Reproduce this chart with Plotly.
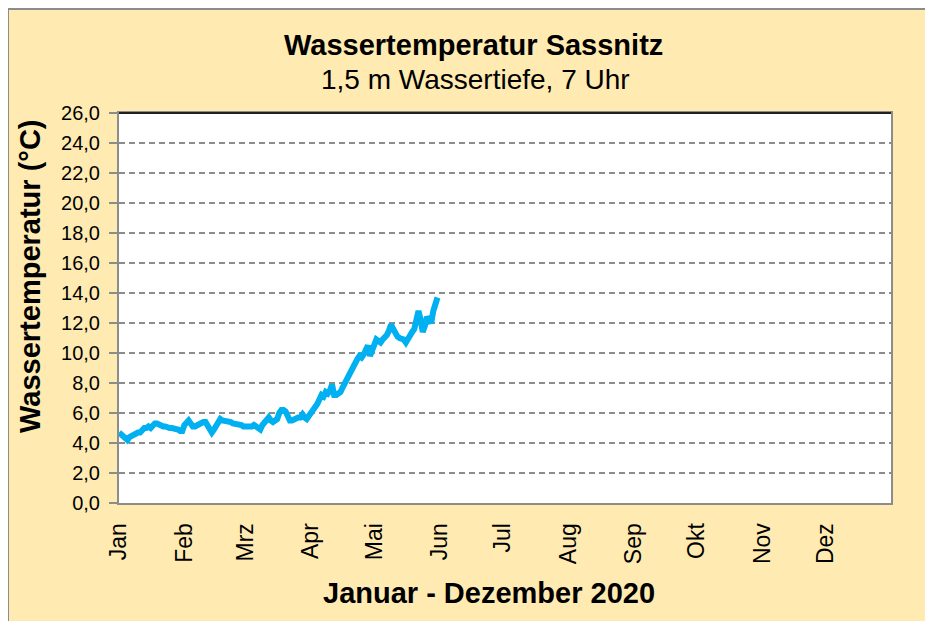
import pandas as pd
import plotly.graph_objects as go

start_date = "2020-01-01"
temps = [
    4.7, 4.6, 4.5, 4.4, 4.2, 4.4, 4.5, 4.6, 4.6, 4.7,
    4.7, 4.9, 5.0, 5.0, 5.1, 5.0, 5.2, 5.3, 5.3, 5.2,
    5.1, 5.1, 5.1, 5.0, 5.0, 5.0, 5.0, 5.0, 4.9, 4.8,
    4.8, 5.2, 5.4, 5.5, 5.3, 5.1, 5.1, 5.2, 5.2, 5.3,
    5.4, 5.4, 5.1, 4.8, 4.7, 4.9, 5.2, 5.5, 5.6, 5.5,
    5.5, 5.4, 5.4, 5.4, 5.3, 5.3, 5.3, 5.3, 5.2, 5.1,
    5.1, 5.1, 5.0, 5.1, 5.2, 5.1, 5.0, 4.9, 5.2, 5.4,
    5.5, 5.7, 5.5, 5.4, 5.5, 5.6, 6.0, 6.2, 6.2, 6.1,
    5.8, 5.5, 5.5, 5.6, 5.6, 5.7, 5.7, 5.9, 5.7, 5.6,
    5.8, 6.0, 6.1, 6.3, 6.6, 6.9, 7.2, 7.1, 7.4, 7.3,
    7.5, 7.9, 7.2, 7.2, 7.3, 7.4, 7.7, 8.0, 8.2, 8.5,
    8.7, 9.0, 9.3, 9.6, 9.8, 9.7, 9.9, 10.3, 10.5, 9.8,
    10.2, 10.5, 10.9, 10.8, 10.7, 10.9, 11.0, 11.2, 11.5, 11.9,
    11.6, 11.2, 11.1, 11.0, 11.0, 10.9, 10.7, 11.0, 11.3, 11.4,
    11.6, 12.4, 12.8, 12.2, 11.4, 11.8, 12.4, 12.2, 12.0, 12.8,
    13.5, 13.7,
]
month_starts = ["2020-01-01", "2020-02-01", "2020-03-01", "2020-04-01",
                "2020-05-01", "2020-06-01", "2020-07-01", "2020-08-01",
                "2020-09-01", "2020-10-01", "2020-11-01", "2020-12-01"]
month_labels = ["Jan", "Feb", "Mrz", "Apr", "Mai", "Jun",
                "Jul", "Aug", "Sep", "Okt", "Nov", "Dez"]
y_ticks = [0, 2, 4, 6, 8, 10, 12, 14, 16, 18, 20, 22, 24, 26]

title_text = "Wassertemperatur Sassnitz"
subtitle_text = "1,5 m Wassertiefe, 7 Uhr"
x_title = "Januar - Dezember 2020"
y_title = "Wassertemperatur (°C)"

dates = pd.date_range(start_date, periods=len(temps), freq="D")

FONT = "Liberation Sans, Arial, sans-serif"
BG = "#FFEBB2"

# figure is placed 8px from the page corner by the browser's body margin
W, H = 925, 613
L, R, T, B = 111, 42, 105, 118
PW, PH = W - L - R, H - T - B


def px_x(fx):
    return (fx - L) / PW


def px_y(fy):
    return (H - B - fy) / PH


fig = go.Figure()
fig.add_trace(go.Scatter(
    x=dates, y=temps, mode="lines",
    line=dict(color="#00B0F0", width=6, shape="linear"),
    hoverinfo="x+y", showlegend=False,
))

fig.update_layout(
    width=W, height=H,
    margin=dict(l=L, r=R, t=T, b=B),
    paper_bgcolor=BG,
    plot_bgcolor="white",
    separators=",.",
    font=dict(family=FONT, color="black", size=17),
    showlegend=False,
    shapes=[
        dict(type="rect", xref="paper", yref="paper",
             x0=px_x(0), x1=px_x(W + 20), y0=px_y(H + 20), y1=px_y(1),
             fillcolor="rgba(0,0,0,0)", line=dict(color="#8C8C8C", width=2),
             layer="below"),
        dict(type="line", xref="paper", yref="paper",
             x0=0, x1=1, y0=1, y1=1, line=dict(color="#202020", width=2)),
    ],
    annotations=[
        dict(text="<b>" + title_text + "</b>", xref="paper", yref="paper",
             x=px_x(465), y=px_y(37), xanchor="center", yanchor="middle",
             showarrow=False, font=dict(size=29, family=FONT)),
        dict(text=subtitle_text, xref="paper", yref="paper",
             x=px_x(467), y=px_y(71), xanchor="center", yanchor="middle",
             showarrow=False, font=dict(size=28, family=FONT)),
        dict(text="<b>" + x_title + "</b>", xref="paper", yref="paper",
             x=px_x(481), y=px_y(585), xanchor="center", yanchor="middle",
             showarrow=False, font=dict(size=29, family=FONT)),
        dict(text="<b>" + y_title + "</b>", xref="paper", yref="paper",
             x=px_x(22), y=px_y(268), xanchor="center", yanchor="middle",
             textangle=-90, showarrow=False, font=dict(size=29, family=FONT)),
    ],
)

fig.update_xaxes(
    type="date",
    range=["2020-01-01", "2021-01-01"],
    tickvals=month_starts, ticktext=month_labels,
    tickangle=-90, tickfont=dict(size=23, family=FONT),
    showgrid=False, zeroline=False,
    showline=True, linecolor="#8C8C8C", linewidth=2, mirror=True,
    ticks="", ticklabelstandoff=9,
)
fig.update_yaxes(
    range=[0, 26],
    tickvals=y_ticks, tickformat=".1f",
    tickfont=dict(size=20, family=FONT),
    showgrid=True, gridcolor="#8C8C8C", gridwidth=1.5, griddash="6px,4px",
    zeroline=False,
    showline=True, linecolor="#8C8C8C", linewidth=2, mirror=True,
    ticks="outside", ticklen=8, tickcolor="#8C8C8C", tickwidth=1.5,
    ticklabelstandoff=5,
)

fig.write_html("out.html")
